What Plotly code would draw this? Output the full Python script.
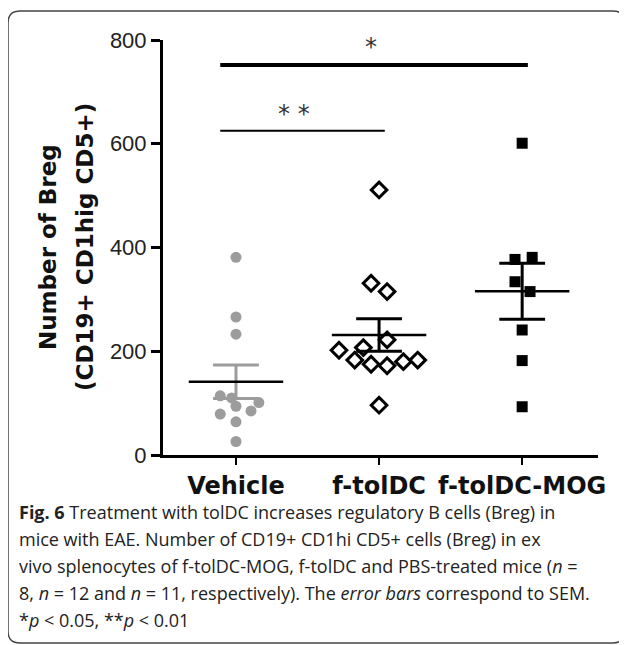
import numpy as np
import plotly.graph_objects as go

# ---------------- data ----------------
groups = ["Vehicle", "f-tolDC", "f-tolDC-MOG"]
vehicle = [381, 266, 233, 114, 110, 101, 94, 85, 79, 64, 26]
vehicle_dx = [0, 0, 0, -0.11, -0.03, 0.16, 0, 0.105, -0.11, 0, 0]
ftoldc = [511, 331, 315, 222, 207, 202, 183, 175, 172, 180, 183, 96]
ftoldc_dx = [0, -0.056, 0.056, 0.056, -0.11, -0.28, -0.17, -0.056, 0.056, 0.17, 0.27, 0]
ftoldc_mog = [601, 381, 377, 334, 315, 241, 182, 93]
ftoldc_mog_dx = [0, 0.07, -0.05, -0.05, 0.055, 0, 0, 0]
yticks = [0, 200, 400, 600, 800]
comparisons = [(0, 1, "* *", 625), (0, 2, "*", 752)]

# ---------------- geometry helpers (screen pixels) ----------------
W, H = 627, 645
OFF = 8  # page body margin
L, R, T, B = 163, 598, 40, 455


def px(x):
    return (x - L) / (R - L)


def py(y):
    return (B - y) / (B - T)


fig = go.Figure()

series = [
    (vehicle, vehicle_dx, dict(symbol="circle", size=11, color="#9c9c9c"), "#9c9c9c"),
    (ftoldc, ftoldc_dx, dict(symbol="diamond", size=12, color="white",
                             line=dict(color="black", width=3)), "black"),
    (ftoldc_mog, ftoldc_mog_dx, dict(symbol="square", size=11, color="black"), "black"),
]

for i, (vals, dx, marker, barcol) in enumerate(series):
    xs = [i + d for d in dx]
    fig.add_trace(go.Scatter(x=xs, y=vals, mode="markers", marker=marker,
                             cliponaxis=False, showlegend=False, hoverinfo="y"))

for i, (vals, dx, marker, barcol) in enumerate(series):
    a = np.array(vals, dtype=float)
    m = a.mean()
    sem = a.std(ddof=1) / np.sqrt(len(a))
    cap = 0.16
    fig.add_trace(go.Scatter(
        x=[i, i, None, i - cap, i + cap, None, i - cap, i + cap],
        y=[m - sem, m + sem, None, m + sem, m + sem, None, m - sem, m - sem],
        mode="lines", line=dict(color=barcol, width=3), showlegend=False,
        hoverinfo="skip", cliponaxis=False))
    fig.add_trace(go.Scatter(x=[i - 0.33, i + 0.33], y=[m, m], mode="lines",
                             line=dict(color="black", width=2.5), showlegend=False,
                             hoverinfo="skip", cliponaxis=False))

for a_i, b_i, label, lvl in comparisons:
    wdt = 4 if label == "*" else 2
    fig.add_trace(go.Scatter(x=[a_i - 0.11, b_i + 0.04], y=[lvl, lvl], mode="lines",
                             line=dict(color="black", width=wdt), showlegend=False,
                             hoverinfo="skip", cliponaxis=False))

annotations = []
annotations.append(dict(x=px(371), y=py(47), xref="paper", yref="paper", text="*",
                        showarrow=False, font=dict(family="DejaVu Sans", size=24, color="#333"),
                        xanchor="center", yanchor="middle"))
annotations.append(dict(x=px(294), y=py(114), xref="paper", yref="paper", text="* *",
                        showarrow=False, font=dict(family="DejaVu Sans", size=24, color="#333"),
                        xanchor="center", yanchor="middle"))

annotations.append(dict(x=px(48), y=py(247), xref="paper", yref="paper", text="<b>Number of Breg</b>",
                        textangle=-90, showarrow=False,
                        font=dict(family="DejaVu Sans", size=23, color="#111"),
                        xanchor="center", yanchor="middle"))
annotations.append(dict(x=px(85), y=py(247), xref="paper", yref="paper",
                        text="<b>(CD19+ CD1hig CD5+)</b>", textangle=-90, showarrow=False,
                        font=dict(family="DejaVu Sans", size=23, color="#111"),
                        xanchor="center", yanchor="middle"))

caption = [
    "<b>Fig. 6</b> Treatment with tolDC increases regulatory B cells (Breg) in",
    "mice with EAE. Number of CD19+ CD1hi CD5+ cells (Breg) in ex",
    "vivo splenocytes of f-tolDC-MOG, f-tolDC and PBS-treated mice (<i>n</i> =",
    "8, <i>n</i> = 12 and <i>n</i> = 11, respectively). The <i>error bars</i> correspond to SEM.",
    "*<i>p</i> &lt; 0.05, **<i>p</i> &lt; 0.01",
]
cap_y = [512, 539, 566, 593, 620]
for line, yy in zip(caption, cap_y):
    annotations.append(dict(x=px(17), y=py(yy), xref="paper", yref="paper", text=line,
                            showarrow=False, xanchor="left", yanchor="middle",
                            font=dict(family="Open Sans", size=18, color="#222")))

x0, y0, x1, y1, r = 8, 11, 625, 643, 12
def P(x, y):
    return f"{px(x):.5f},{py(y):.5f}"
path = (f"M {P(x0 + r, y0)} L {P(x1 - r, y0)} Q {P(x1, y0)} {P(x1, y0 + r)} "
        f"L {P(x1, y1 - r)} Q {P(x1, y1)} {P(x1 - r, y1)} L {P(x0 + r, y1)} "
        f"Q {P(x0, y1)} {P(x0, y1 - r)} L {P(x0, y0 + r)} Q {P(x0, y0)} {P(x0 + r, y0)} Z")

fig.update_layout(
    width=W, height=H,
    margin=dict(l=L - OFF, r=W - (R - OFF), t=T - OFF, b=H - (B - OFF), pad=0),
    paper_bgcolor="white", plot_bgcolor="white",
    annotations=annotations,
    shapes=[dict(type="path", path=path, xref="paper", yref="paper",
                 line=dict(color="#444", width=1.5))],
    xaxis=dict(range=[-0.51, 2.53], tickvals=[0, 1, 2], ticktext=[f"<b>{g}</b>" for g in groups],
               showline=True, linecolor="black", linewidth=3, ticks="outside",
               ticklen=7, tickwidth=2, tickcolor="black", showgrid=False, zeroline=False,
               tickfont=dict(family="DejaVu Sans", size=24, color="#111")),
    yaxis=dict(range=[0, 800], tickvals=yticks, showline=True, linecolor="black",
               linewidth=3, ticks="outside", ticklen=9, tickwidth=2.5, tickcolor="black",
               showgrid=False, zeroline=False,
               tickfont=dict(family="Liberation Sans", size=22, color="#222"),
               tickprefix="<b>", ticksuffix="</b>"),
)

fig.write_html("out.html")
